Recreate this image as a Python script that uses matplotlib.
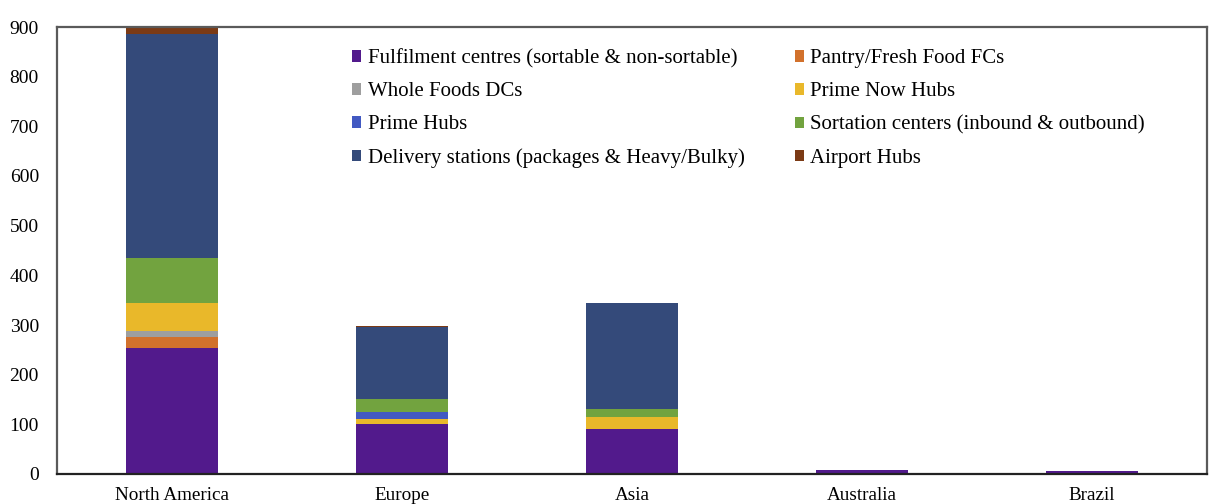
import matplotlib
matplotlib.use("Agg")
import matplotlib.pyplot as plt
import numpy as np

regions = ["North America", "Europe", "Asia", "Australia", "Brazil"]

fulfilment_centres = [254, 101, 90, 8, 6]
pantry_fresh_fcs = [22, 0, 0, 0, 0]
whole_foods_dcs = [12, 0, 0, 0, 0]
prime_now_hubs = [57, 9, 25, 0, 0]
prime_hubs = [0, 15, 0, 0, 0]
sortation_centers = [90, 27, 16, 0, 0]
delivery_stations = [450, 143, 213, 0, 0]
airport_hubs = [15, 2, 0, 0, 0]

series = [
    ("Fulfilment centres (sortable & non-sortable)", fulfilment_centres, "#521a8c"),
    ("Pantry/Fresh Food FCs", pantry_fresh_fcs, "#d2712c"),
    ("Whole Foods DCs", whole_foods_dcs, "#9e9e9e"),
    ("Prime Now Hubs", prime_now_hubs, "#e9b82a"),
    ("Prime Hubs", prime_hubs, "#4259c2"),
    ("Sortation centers (inbound & outbound)", sortation_centers, "#72a33f"),
    ("Delivery stations (packages & Heavy/Bulky)", delivery_stations, "#344a7a"),
    ("Airport Hubs", airport_hubs, "#7b3a15"),
]

plt.rcParams["font.family"] = ["Liberation Serif", "DejaVu Serif"]

fig = plt.figure(figsize=(12.15, 5.04), dpi=100)
ax = fig.add_axes([57 / 1215, 30 / 504, 1150 / 1215, 447 / 504])

x = np.arange(len(regions))
bottom = np.zeros(len(regions))
handles = []
for label, vals, color in series:
    vals = np.array(vals, dtype=float)
    b = ax.bar(x, vals, width=0.396, bottom=bottom, color=color, label=label,
               edgecolor="none", zorder=2)
    handles.append(b)
    bottom += vals

ax.set_xlim(-0.5, len(regions) - 0.5)
ax.set_ylim(0, 900)
ax.set_yticks(np.arange(0, 901, 100))
ax.set_xticks(x)
ax.set_xticklabels(regions, fontsize=13.8)
ax.tick_params(axis="y", length=0, pad=13, labelsize=14)
ax.tick_params(axis="x", length=0, pad=9)

for side in ["left", "top", "right"]:
    ax.spines[side].set_color("#5a5a5a")
    ax.spines[side].set_linewidth(1.6)
ax.spines["bottom"].set_color("#222222")
ax.spines["bottom"].set_linewidth(1.6)

# two-column legend, filled row by row
order = [0, 2, 4, 6, 1, 3, 5, 7]
leg = ax.legend([handles[i] for i in order], [series[i][0] for i in order],
                ncol=2, loc="upper left", bbox_to_anchor=(352 / 1215, 455 / 504),
                bbox_transform=fig.transFigure, frameon=False, fontsize=15,
                handlelength=0.45, handleheight=0.45, handletextpad=0.3,
                columnspacing=2.4, labelspacing=0.67, borderaxespad=0, borderpad=0)

fig.savefig("out.png", dpi=100)
